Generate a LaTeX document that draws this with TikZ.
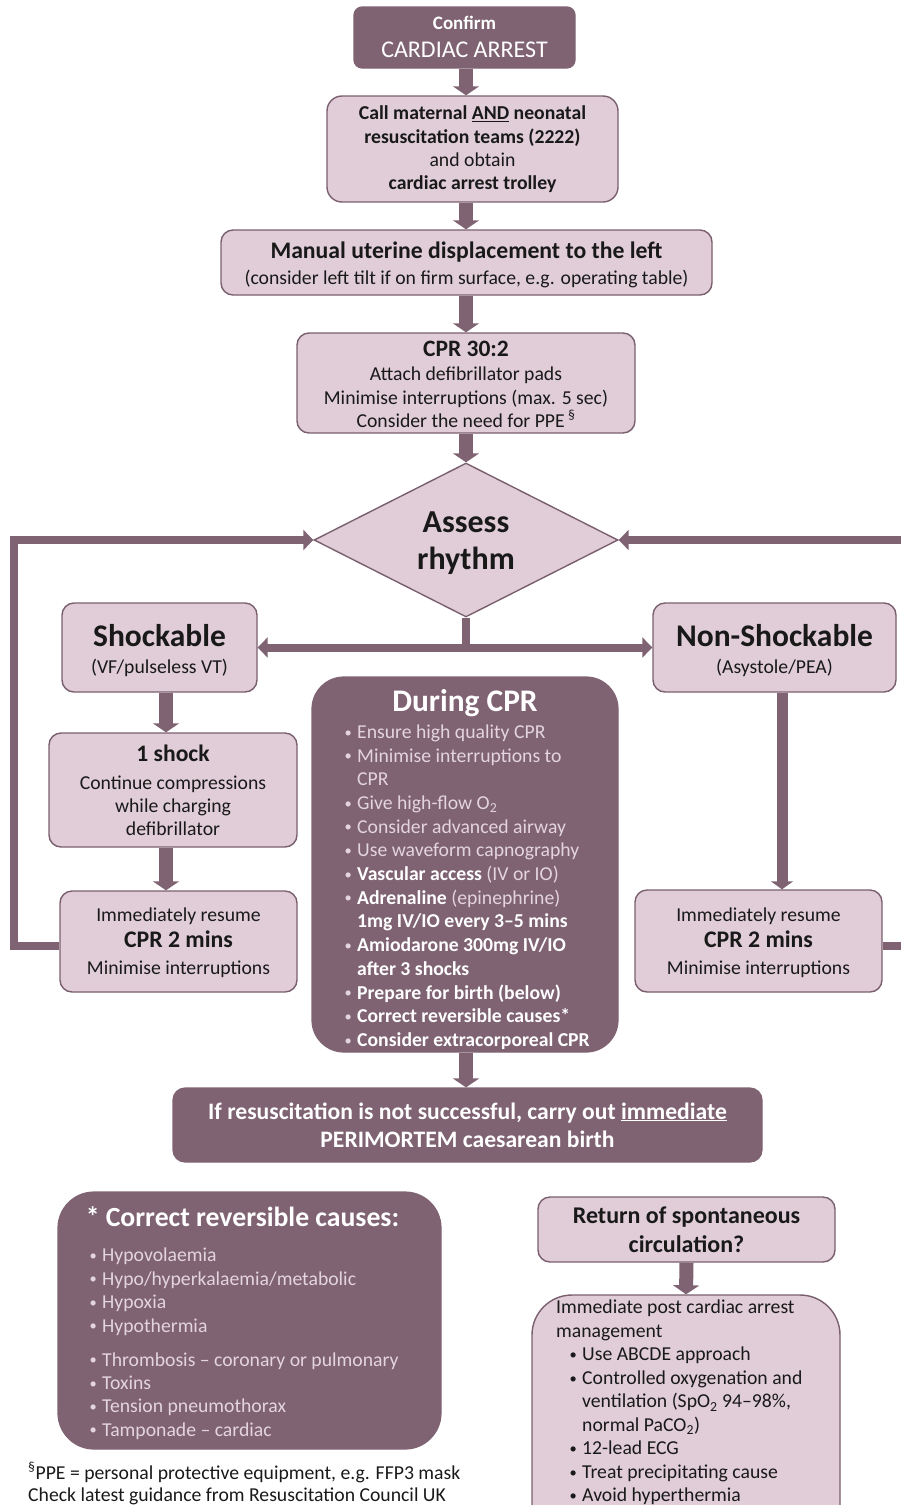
\documentclass[tikz,border=0pt]{standalone}
\usepackage{fontspec}
\setmainfont{Carlito}
\usetikzlibrary{shapes.geometric,arrows.meta,calc}
\definecolor{dark}{RGB}{127,99,115}
\definecolor{light}{RGB}{224,205,215}
\definecolor{edge}{RGB}{122,95,110}
\definecolor{ink}{RGB}{25,25,25}
\definecolor{pale}{RGB}{228,212,221}
\newcommand\fs[2]{\fontsize{#1}{#2}\selectfont\lineskiplimit=-100pt\relax}
\newcommand\fl[2]{\raisebox{0pt}[#1pt][0pt]{#2}}
\newcommand\sm[1]{\raisebox{0pt}[0pt][0pt]{#1}}
\newcommand\bul{\makebox[13pt][l]{\hspace{0.5pt}\raisebox{1.3pt}{\fontsize{14.5}{14.5}\selectfont\textbullet}}}
\newcommand\hang{\hspace*{13pt}}
\newcommand\wb[1]{\textcolor{white}{\textbf{#1}}}
\begin{document}
\begin{tikzpicture}[x=1pt,y=-1pt,
  lightbox/.style={draw=edge,fill=light,line width=1.4pt,rounded corners=12pt,text=ink,align=center,inner sep=0pt},
  darkbox/.style={draw=dark,fill=dark,line width=1.2pt,rounded corners=12pt,text=white,align=center,inner sep=0pt},
  flow/.style={draw=dark,line width=14pt,-{Triangle[width=26pt,length=9pt]}},
  thinflow/.style={draw=dark,line width=11pt,-{Triangle[width=22pt,length=8pt]}},
  loopline/.style={draw=dark,line width=8pt,line join=miter},
  looparrow/.style={loopline,-{Triangle[width=20pt,length=10pt]}},
  plain/.style={inner sep=0pt}
]
\useasboundingbox (0,0) rectangle (901,1505);

% boxes
\node[darkbox,minimum width=221pt,minimum height=61pt,rounded corners=8pt,font=\fs{24}{27.5}] (confirm) at (464.5,37.5)
  {\fl{11.9}{\fontsize{19}{27.5}\selectfont\bfseries Confirm}\\\sm{CARDIAC ARREST}};
\node[lightbox,minimum width=291pt,minimum height=106pt,rounded corners=15pt,font=\fs{19.7}{23.3}] (call) at (472.5,149)
  {\fl{11.7}{\textbf{Call maternal \underline{AND} neonatal}}\\\sm{\textbf{resuscitation teams (2222)}}\\\sm{and obtain}\\\sm{\textbf{cardiac arrest trolley}}};
\node[lightbox,minimum width=491pt,minimum height=65pt,font=\fs{19.7}{25.8}] (manual) at (466.5,262.5)
  {\fl{18}{\fontsize{23.7}{25.8}\selectfont\bfseries Manual uterine displacement to the left}\\\sm{(consider left tilt if on firm surface, e.g. operating table)}};
\node[lightbox,minimum width=338pt,minimum height=100pt,font=\fs{19.7}{23.3}] (cpr) at (466,383)
  {\fl{17.5}{\fontsize{23.5}{23.3}\selectfont\bfseries CPR 30:2}\\[1.6pt]\sm{Attach defibrillator pads}\\\sm{Minimise interruptions (max. 5 sec)}\\\sm{Consider the need for PPE\,\textsuperscript{§}}};
\node[diamond,draw=edge,fill=light,line width=1.4pt,minimum width=304pt,minimum height=154pt,
  inner sep=0pt,aspect=2,align=center,text=ink,font=\fs{32}{37}\bfseries] (assess) at (466,540)
  {\fl{22.2}{Assess}\\\sm{rhythm}};
\node[lightbox,minimum width=195pt,minimum height=89pt,font=\fs{19.7}{27.4}] (shockable) at (159.5,647.5)
  {\fl{25.4}{\fontsize{31.5}{27.4}\selectfont\bfseries Shockable}\\\sm{(VF/pulseless VT)}};
\node[lightbox,minimum width=243pt,minimum height=89pt,font=\fs{19.7}{27.4}] (nonshock) at (774.5,647.5)
  {\fl{25.4}{\fontsize{31.5}{27.4}\selectfont\bfseries Non-Shockable}\\\sm{(Asystole/PEA)}};
\node[lightbox,minimum width=248pt,minimum height=114pt,font=\fs{19.7}{23}] (shock1) at (173,790)
  {\fl{16.5}{\fontsize{23.6}{23}\selectfont\bfseries 1 shock}\\[4.8pt]\sm{Continue compressions}\\\sm{while charging}\\\sm{defibrillator}};
\node[lightbox,minimum width=237pt,minimum height=101pt,font=\fs{19.7}{26.5}] (imml) at (178.5,941.5)
  {\fl{12.3}{Immediately resume}\\\sm{\fontsize{23.8}{26.5}\selectfont\bfseries CPR 2 mins}\\\sm{Minimise interruptions}};
\node[lightbox,minimum width=247pt,minimum height=102pt,font=\fs{19.7}{26.5}] (immr) at (758.5,941)
  {\fl{13.3}{Immediately resume}\\\sm{\fontsize{23.8}{26.5}\selectfont\bfseries CPR 2 mins}\\\sm{Minimise interruptions}};
\node[darkbox,minimum width=306pt,minimum height=375pt,rounded corners=32pt] (during) at (465,864.5) {};
\node[plain,text=white,font=\fs{31.4}{34}\bfseries] (duringtitle) at (465,703) {During CPR};
\node[plain,anchor=north west,align=left,text=pale,font=\fs{19.7}{23.7}] (duringlist) at (344,724.5) {%
\bul Ensure high quality CPR\\
\bul Minimise interruptions to\\
\hang CPR\\
\bul Give high-flow O\textsubscript{2}\\
\bul Consider advanced airway\\
\bul Use waveform capnography\\
\bul \wb{Vascular access} (IV or IO)\\
\bul \wb{Adrenaline} (epinephrine)\\
\hang \wb{1mg IV/IO every 3–5 mins}\\
\bul \wb{Amiodarone 300mg IV/IO}\\
\hang \wb{after 3 shocks}\\
\bul \wb{Prepare for birth (below)}\\
\bul \wb{Correct reversible causes*}\\
\bul \wb{Consider extracorporeal CPR}};
\node[darkbox,minimum width=589pt,minimum height=74pt,font=\fs{23.6}{28}\bfseries] (perimortem) at (467.5,1125)
  {\fl{16.2}{If resuscitation is not successful, carry out \underline{immediate}}\\\sm{PERIMORTEM caesarean birth}};
\node[darkbox,minimum width=383pt,minimum height=257pt,rounded corners=36pt] (causes) at (249.5,1320.5) {};
\node[plain,text=white,font=\fs{27.7}{30}\bfseries] (causestitle) at (242.5,1217) {* Correct reversible causes:};
\node[plain,anchor=north west,align=left,text=pale,font=\fs{19.7}{23.4}] (causeslist) at (89,1248) {%
\bul Hypovolaemia\\
\bul Hypo/hyperkalaemia/metabolic\\
\bul Hypoxia\\
\bul Hypothermia\\[10.6pt]
\bul Thrombosis – coronary or pulmonary\\
\bul Toxins\\
\bul Tension pneumothorax\\
\bul Tamponade – cardiac};
\node[plain,anchor=north west,align=left,text=ink,font=\fs{19.7}{22}] (foot) at (28,1462) {%
\textsuperscript{§}PPE = personal protective equipment, e.g. FFP3 mask\\
Check latest guidance from Resuscitation Council UK};
\node[lightbox,minimum width=297pt,minimum height=65pt,font=\fs{24}{29}\bfseries] (rosc) at (686.5,1229.5)
  {\fl{16.4}{Return of spontaneous}\\\sm{circulation?}};
\node[lightbox,minimum width=308pt,minimum height=250pt,rounded corners=40pt] (post) at (686,1420) {};
\node[plain,anchor=north west,align=left,text=ink,font=\fs{19.7}{23.5}] (postlist) at (556,1300) {%
Immediate post cardiac arrest\\
management\\
\hang\bul Use ABCDE approach\\
\hang\bul Controlled oxygenation and\\
\hang\hang ventilation (SpO\textsubscript{2} 94–98\%,\\
\hang\hang normal PaCO\textsubscript{2})\\
\hang\bul 12-lead ECG\\
\hang\bul Treat precipitating cause\\
\hang\bul Avoid hyperthermia};

% connectors
\coordinate (mx) at (466,0);
\coordinate (sx) at (166,0);
\coordinate (nx) at (782,0);
\coordinate (ly) at (0,946);
\coordinate (split) at (466,647.5);
\coordinate (lx) at (14,540);
\coordinate (rx) at (906,540);
\draw[flow] (confirm.south -| mx) -- (call.north -| mx);
\draw[flow] (call.south -| mx) -- (manual.north -| mx);
\draw[flow] (manual.south -| mx) -- (cpr.north -| mx);
\draw[flow] (cpr.south -| mx) -- (assess.north);
\draw[loopline] (assess.south) -- (split);
\draw[looparrow] (split) -- (shockable.east);
\draw[looparrow] (split) -- (nonshock.west);
\draw[flow] (shockable.south -| sx) -- (shock1.north -| sx);
\draw[flow] (shock1.south -| sx) -- (imml.north -| sx);
\draw[thinflow] (nonshock.south -| nx) -- (immr.north -| nx);
\draw[looparrow] (imml.west |- ly) -| (lx) -- (assess.west);
\draw[looparrow] (immr.east |- ly) -| (rx) -- (assess.east);
\draw[flow] (during.south -| mx) -- (perimortem.north -| mx);
\draw[flow] (rosc.south) -- (post.north);
\end{tikzpicture}
\end{document}
